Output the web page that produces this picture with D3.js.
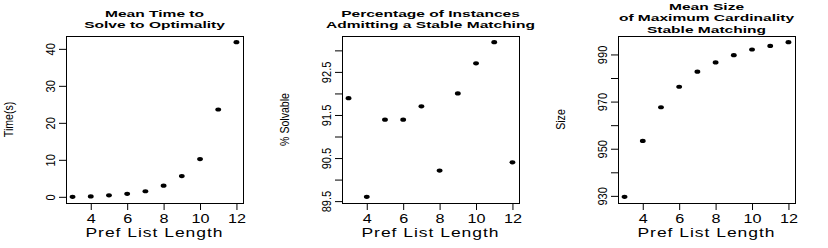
<!DOCTYPE html>
<meta charset="utf-8">
<script src="https://d3js.org/d3.v7.min.js"></script>
<style>
  body { margin: 0; background: #fff; }
  text { font-family: "Liberation Sans", Helvetica, Arial, sans-serif; fill: #000; }
</style>
<div id="chart"></div>
<script>

    // data
    const prefLength = [3, 4, 5, 6, 7, 8, 9, 10, 11, 12];
    const meanTime = [0.0, 0.1, 0.4, 0.8, 1.5, 3.0, 5.6, 10.2, 23.6, 41.8];
    const pctSolvable = [91.89, 89.6, 91.39, 91.39, 91.7, 90.21, 92.0, 92.7, 93.19, 90.4];
    const meanSize = [929.6, 953.3, 967.6, 976.3, 982.7, 986.6, 989.7, 992.1, 993.6, 995.2];

    // ticks and labels
    const xTicks = [4, 6, 8, 10, 12];
    const timeTicks = [0, 10, 20, 30, 40];
    const timeTickLabels = ["0", "10", "20", "30", "40"];
    const solvableTicks = [89.5, 90, 90.5, 91, 91.5, 92, 92.5, 93];
    const solvableTickLabels = ["89.5", "", "90.5", "", "91.5", "", "92.5", ""];
    const sizeTicks = [930, 940, 950, 960, 970, 980, 990];
    const sizeTickLabels = ["930", "", "950", "", "970", "", "990"];

    const titles = [
      ["Mean Time to", "Solve to Optimality"],
      ["Percentage of Instances", "Admitting a Stable Matching"],
      ["Mean Size", "of Maximum Cardinality", "Stable Matching"]
    ];
    const yTitles = ["Time(s)", "% Solvable", "Size"];
    const xTitle = "Pref List Length";

    const panels = [
      {y: meanTime, ticks: timeTicks, labels: timeTickLabels},
      {y: pctSolvable, ticks: solvableTicks, labels: solvableTickLabels},
      {y: meanSize, ticks: sizeTicks, labels: sizeTickLabels}
    ];

    const W = 828, H = 248, panelW = 276;
    const plot = {left: 66, right: 243, top: 36, bottom: 203};

    const svg = d3.select("#chart")
      .append("svg")
        .attr("width", W)
        .attr("height", H);

    // R style: pad the range by 4% each side
    function pad(ext) {
      const d = (ext[1] - ext[0]) * 0.04;
      return [ext[0] - d, ext[1] + d];
    }

    panels.forEach(function(p, i) {
      const g = svg.append("g")
        .attr("transform", `translate(${i * panelW},0)`);

      const x = d3.scaleLinear()
        .domain(pad(d3.extent(prefLength)))
        .range([plot.left, plot.right]);
      const y = d3.scaleLinear()
        .domain(pad(d3.extent(p.y)))
        .range([plot.bottom, plot.top]);

      // x axis
      const xa = g.append("g")
        .attr("transform", `translate(0,${plot.bottom})`)
        .call(d3.axisBottom(x).tickValues(xTicks).tickSize(7).tickPadding(0));
      xa.select(".domain").remove();
      xa.attr("font-family", null).attr("font-size", null);
      xa.selectAll("line").attr("stroke", "#000");
      xa.selectAll("text")
        .attr("y", 15.5)
        .attr("dy", "0.36em")
        .attr("font-size", 12)
        .attr("transform", "scale(1.35,1)");

      // y axis
      const ya = g.append("g")
        .attr("transform", `translate(${plot.left},0)`)
        .call(d3.axisLeft(y).tickValues(p.ticks).tickSize(7)
          .tickFormat(function(d, j) { return p.labels[j]; }));
      ya.select(".domain").remove();
      ya.attr("font-family", null).attr("font-size", null);
      ya.selectAll("line").attr("stroke", "#000");
      ya.selectAll("text")
        .attr("x", 0)
        .attr("y", -11.5)
        .attr("dy", 0)
        .attr("text-anchor", "middle")
        .attr("font-size", 13)
        .attr("transform", "scale(1,0.85) rotate(-90)");

      // box
      g.append("rect")
        .attr("x", plot.left + 0.5)
        .attr("y", plot.top + 0.5)
        .attr("width", plot.right - plot.left)
        .attr("height", plot.bottom - plot.top)
        .attr("fill", "none")
        .attr("stroke", "#000")
        .attr("stroke-width", 1);

      // points
      g.append("g")
        .selectAll("ellipse")
        .data(prefLength)
        .join("ellipse")
          .attr("cx", function(d) { return x(d); })
          .attr("cy", function(d, j) { return y(p.y[j]); })
          .attr("rx", 2.9)
          .attr("ry", 2.1)
          .attr("fill", "#000");

      // title
      const lines = titles[i];
      const cx = (plot.left + plot.right) / 2;
      const mid = lines.length == 3 ? 18 : 19.2;
      lines.forEach(function(t, k) {
        g.append("text")
          .attr("transform", `translate(${cx},${mid + (k - (lines.length - 1) / 2) * 11.1}) scale(1.62,1)`)
          .attr("text-anchor", "middle")
          .attr("dy", "0.36em")
          .attr("font-size", 9.6)
          .attr("font-weight", "bold")
          .text(t);
      });

      // x title
      g.append("text")
        .attr("transform", `translate(${cx},232) scale(1.4,1)`)
        .attr("text-anchor", "middle")
        .attr("dy", "0.36em")
        .attr("font-size", 12.5)
        .attr("letter-spacing", 0.7)
        .text(xTitle);

      // y title
      g.append("text")
        .attr("transform", `translate(9,${(plot.top + plot.bottom) / 2}) scale(1,0.88) rotate(-90)`)
        .attr("text-anchor", "middle")
        .attr("dy", "0.36em")
        .attr("font-size", 12)
        .text(yTitles[i]);
    });
    </script>
